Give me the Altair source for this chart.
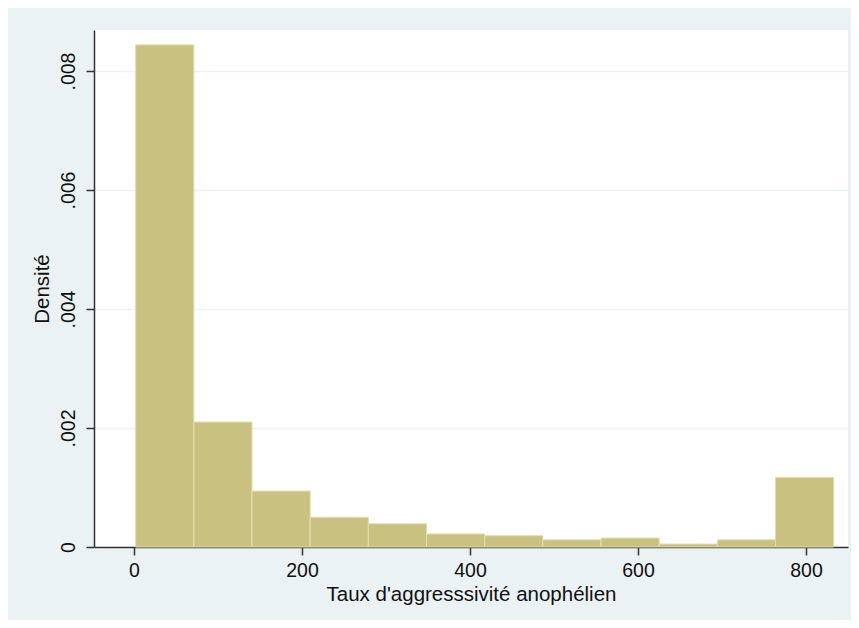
import altair as alt
import pandas as pd

# Histogram bins (Taux d'aggresssivité anophélien) and densities
bin_start = [2.0, 71.25, 140.5, 209.75, 279.0, 348.25, 417.5, 486.75, 556.0, 625.25, 694.5, 763.75]
bin_end = [71.25, 140.5, 209.75, 279.0, 348.25, 417.5, 486.75, 556.0, 625.25, 694.5, 763.75, 833.0]
density = [0.00844, 0.00210, 0.00094, 0.00050, 0.00039, 0.00022, 0.00019, 0.00012, 0.00015, 0.00005, 0.00012, 0.00117]

x_ticks = [0, 200, 400, 600, 800]
y_ticks = [0, 0.002, 0.004, 0.006, 0.008]

df = pd.DataFrame({"start": bin_start, "end": bin_end, "density": density})

FONT = "Liberation Sans"
TXT = "#111111"

bars = alt.Chart(df).mark_rect(
    fill="#c9c17f", stroke="#e2ddb0", strokeWidth=1
).encode(
    x=alt.X("start:Q",
            scale=alt.Scale(domain=[-47.6, 850], nice=False, zero=False),
            axis=alt.Axis(values=x_ticks, title="Taux d'aggresssivité anophélien",
                          grid=False, format="d", labelFontSize=19.5, titleFontSize=20.5,
                          labelPadding=6, titlePadding=5, tickSize=8)),
    x2="end:Q",
    y=alt.Y("density:Q",
            scale=alt.Scale(domain=[0, 0.00869], nice=False),
            axis=alt.Axis(values=y_ticks, title="Densité",
                          labelExpr="datum.value == 0 ? '0' : replace(format(datum.value, '.3f'), '0.', '.')",
                          labelAngle=270, labelAlign="center", labelBaseline="bottom",
                          labelFontSize=19.5, titleFontSize=20.5,
                          labelPadding=8, titlePadding=6, tickSize=8,
                          grid=True, gridColor="#eaf2f3", gridWidth=1.5)),
    y2=alt.Y2(datum=0),
)

chart = bars.properties(
    width=754, height=517,
    autosize=alt.AutoSizeParams(type="none"),
    padding={"left": 86, "top": 22, "right": 3, "bottom": 73},
    background="#eaf2f3",
).configure_view(
    fill="white", stroke=None
).configure_axis(
    labelFont=FONT, titleFont=FONT, labelColor=TXT, titleColor=TXT,
    titleFontWeight="normal", domainColor="#333333", tickColor="#333333",
    domainWidth=1.5, tickWidth=1.5,
)

chart.save("out.html", embed_options={"renderer": "svg", "actions": False})
